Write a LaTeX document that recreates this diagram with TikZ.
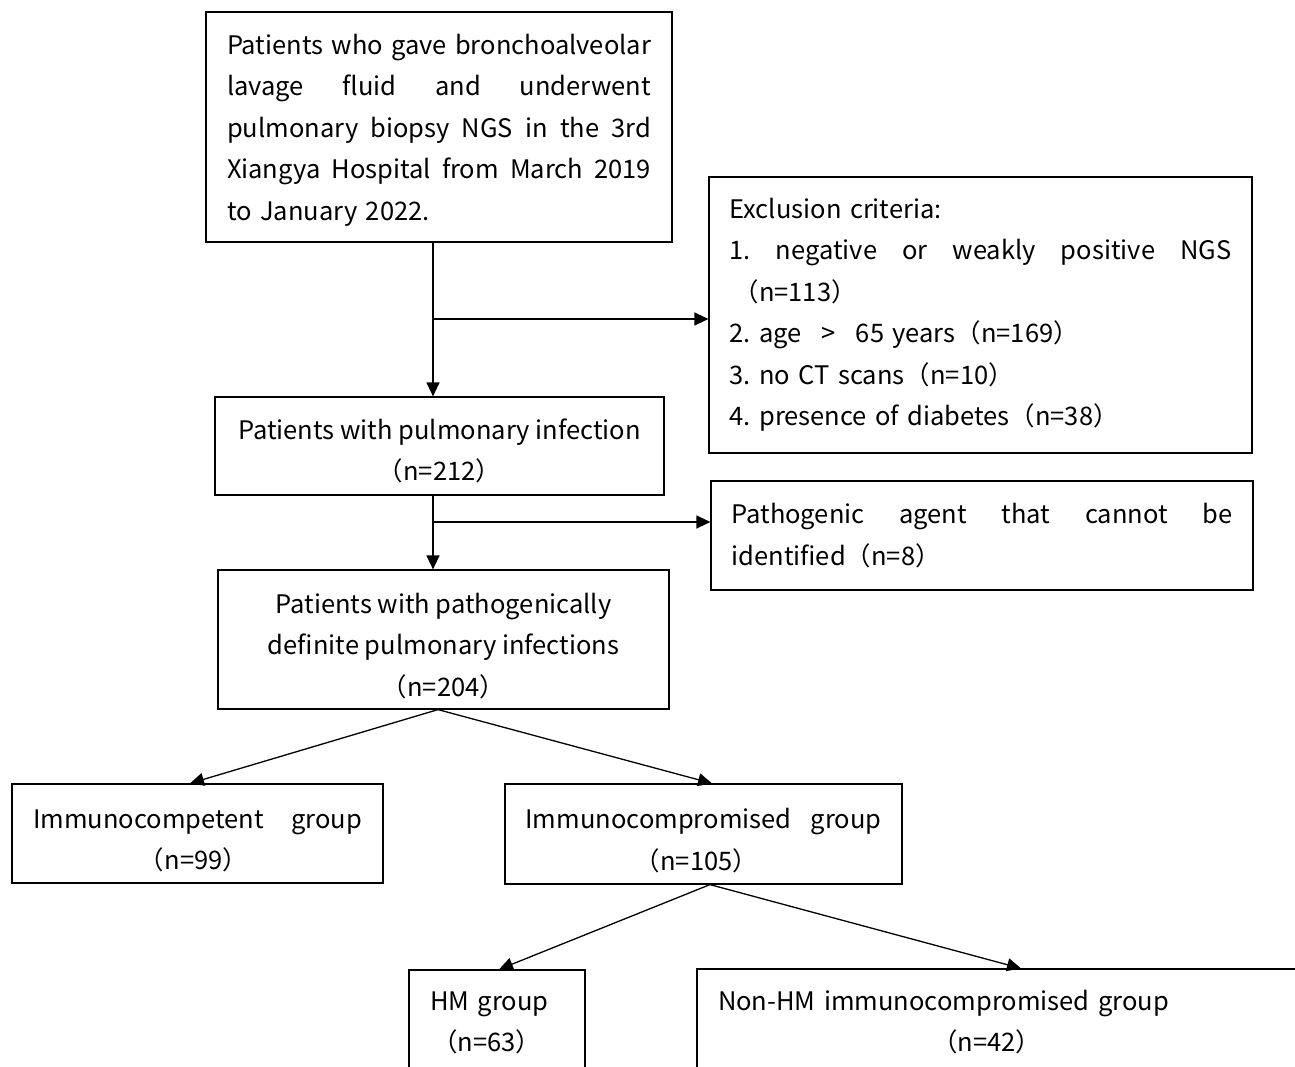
\documentclass[tikz,border=0pt]{standalone}
\usepackage{fontspec}
\setmainfont{Noto Sans CJK SC}
\usetikzlibrary{arrows.meta}
\newcommand\jline[2]{\makebox[#1][s]{\spaceskip=0pt\relax\xspaceskip=0pt\relax #2}}
\newcommand\topstrut[1]{\rule{0pt}{#1}}
\begin{document}
\frenchspacing
\begin{tikzpicture}[x=1pt,y=-1pt,
  box/.style={draw, line width=1.2pt, rectangle, inner sep=0pt, font=\fontsize{25.5}{41.5}\selectfont\frenchspacing},
  arr/.style={-{Triangle[length=14pt,width=13pt]}, line width=1.3pt}]
\useasboundingbox (0,0) rectangle (1295,1067);
\clip (0,0) rectangle (1295,1067);
\node[box, minimum width=466pt, minimum height=230pt, text width=424pt, align=left] (top) at (439,127)
 {\topstrut{26pt}\jline{424pt}{Patients who gave bronchoalveolar}\\
  \jline{424pt}{lavage fluid and underwent}\\
  \jline{424pt}{pulmonary biopsy NGS in the 3rd}\\
  \jline{424pt}{Xiangya Hospital from March 2019}\\
  to January 2022.};
\node[box, minimum width=543pt, minimum height=276pt, text width=502pt, align=left] (excl) at (980.5,315)
 {Exclusion criteria:\\
  \jline{502pt}{1. negative or weakly positive NGS}\\
  \hspace*{4pt}（n=113）\\
  2. age\hspace{20pt}>\hspace{20pt}65 years（n=169）\\
  3. no CT scans（n=10）\\
  4. presence of diabetes（n=38）};
\node[box, minimum width=449pt, minimum height=98pt, align=center] (pulm) at (439.5,446)
 {\topstrut{30pt}Patients with pulmonary infection\\（n=212）};
\node[box, minimum width=542pt, minimum height=109pt, text width=501pt, align=left] (path) at (982,535.5)
 {\jline{501pt}{Pathogenic agent that cannot be}\\
  identified（n=8）};
\node[box, minimum width=451pt, minimum height=139pt, align=center] (def) at (443.5,639.5)
 {\topstrut{33pt}Patients with pathogenically\\definite pulmonary infections\\（n=204）};
\node[box, minimum width=371pt, minimum height=99pt, align=center] (comp) at (197.5,833.5)
 {\topstrut{33pt}\jline{329pt}{Immunocompetent group}\\（n=99）\hspace*{8pt}};
\node[box, minimum width=397pt, minimum height=100pt, align=center] (cpr) at (703.5,834)
 {\topstrut{33pt}\jline{356pt}{Immunocompromised group}\\（n=105）\hspace*{14pt}};
\node[box, minimum width=176pt, minimum height=106pt, text width=134pt, align=left] (hm) at (497,1023)
 {HM group\\\hspace*{2pt}（n=63）};
\node[box, minimum width=623pt, minimum height=106pt, text width=581pt, align=left] (nonhm) at (1008.5,1022)
 {Non-HM immunocompromised group\\\hspace*{214pt}（n=42）};
\draw[arr] ([xshift=-6pt]top.south) -- ([xshift=-6.5pt]pulm.north);
\coordinate (b1) at (433,319);
\draw[arr] (b1) -- (excl.west |- b1);
\draw[arr] ([xshift=-6.5pt]pulm.south) -- ([xshift=-10.5pt]def.north);
\coordinate (b2) at (433,522);
\draw[arr] (b2) -- (path.west |- b2);
\draw[arr] ([xshift=-5.5pt]def.south) -- ([xshift=-7.5pt]comp.north);
\draw[arr] ([xshift=-5.5pt]def.south) -- ([xshift=8.5pt]cpr.north);
\draw[arr] ([xshift=6.5pt]cpr.south) -- ([xshift=2pt]hm.north);
\draw[arr] ([xshift=6.5pt]cpr.south) -- ([xshift=12.5pt]nonhm.north);
\end{tikzpicture}
\end{document}
